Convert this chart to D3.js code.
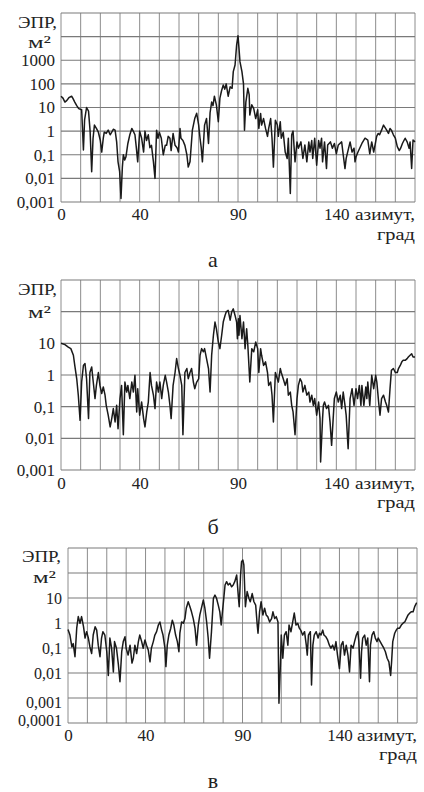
<!DOCTYPE html>
<html><head><meta charset="utf-8">
<script src="https://cdn.jsdelivr.net/npm/d3@7"></script>
<style>
body{margin:0;background:#fff}
svg{display:block}
</style>
</head><body><svg id="c" width="424" height="792"></svg>
<script>
// [azimuth (deg), RCS (m^2)]
const seriesA = [[0,30],[1,25],[2,17],[3,20],[4,26],[5.4,30],[6,25],[7,17],[8,12],[9,9],[10.5,8],[11.4,0.16],[12,3],[13,10],[14,7],[14.8,1],[15.6,0.019],[16.3,0.5],[17,1.8],[18,1.3],[19,0.9],[20,0.4],[20.7,0.13],[21.5,0.5],[22,0.9],[23,0.8],[24,1.1],[25,0.7],[25.8,0.9],[26.6,1.2],[27.5,1.1],[28.3,0.35],[29,0.05],[29.8,0.02],[30.5,0.0014],[31.2,0.03],[31.7,0.1],[32.4,0.06],[33,0.08],[34,0.3],[35,0.7],[36,1.3],[37,0.9],[37.6,0.7],[38.3,0.2],[39,0.05],[40,1],[41,0.5],[42,0.13],[42.7,1.0],[43.5,0.4],[44.4,0.7],[45.2,0.2],[46,0.25],[47,0.05],[47.8,0.01],[48.6,1.1],[49.3,0.5],[50,0.9],[51,0.5],[52,0.1],[53,0.25],[53.7,0.25],[54.5,0.6],[55.4,0.5],[56,0.15],[57,0.8],[58,0.25],[59,0.2],[59.7,0.13],[60.5,1.3],[61,0.5],[62,0.4],[63,0.25],[64,0.1],[64.7,0.03],[65.6,0.05],[66.8,1.1],[68,3.4],[69,5.7],[70,1.8],[70.7,0.5],[71.3,0.2],[71.9,0.05],[73,1.8],[74,3.4],[75,0.3],[75.8,6],[76.6,17],[77.3,12],[78,30],[79,13],[80,2.5],[80.8,25],[81.6,50],[82.5,89],[83.3,60],[84,100],[85,30],[86,75],[87,65],[87.6,330],[88.5,630],[89.3,4400],[90,11000],[90.5,3200],[91,870],[92,330],[92.8,100],[93.3,1.1],[94,17],[95,65],[95.7,34],[96,4.8],[97,13],[98,9],[99,3.4],[100,8],[100.6,1.3],[101.5,5.6],[102,1.8],[103,3.4],[104,1.3],[105,0.6],[105.6,1.3],[106.6,3.4],[107.3,0.5],[108,0.03],[109,2.9],[110,1.8],[110.5,0.6],[111.5,2.5],[112,0.5],[113,0.9],[114,0.13],[115,0.07],[115.6,0.5],[116.6,0.0023],[117.3,0.7],[118,1],[119,0.05],[120,0.35],[120.7,0.19],[122,0.35],[123,0.07],[124,0.26],[125,0.05],[126,0.35],[126.6,0.13],[127.5,0.4],[128,0.07],[129,0.5],[130,0.036],[131,0.4],[131.7,0.19],[132.5,0.5],[133,0.05],[134,0.35],[135,0.026],[135.6,0.26],[137,0.35],[138,0.19],[139,0.3],[140,0.11],[141,0.26],[142.7,0.35],[143.5,0.1],[144.4,0.026],[145,0.07],[147,0.35],[148,0.13],[149,0.19],[149.5,0.05],[150,0.08],[151,0.13],[153,0.3],[154.6,0.5],[156,0.42],[157,0.11],[158,0.35],[159,0.13],[159.7,0.26],[160.5,0.6],[161.3,0.8],[162,0.7],[163,1.1],[164,1.8],[165.6,1.1],[166.5,0.8],[167.3,1.3],[168,1.1],[169,0.7],[170,0.5],[171,0.22],[172,0.15],[172.7,0.19],[173.6,0.3],[174.5,0.42],[175,0.5],[176,0.35],[177,0.19],[177.5,0.35],[178.3,0.026],[179,0.42],[180,0.35]];

const seriesB = [[0,10],[2,9.1],[3.7,7.6],[5,6.8],[6.3,4.2],[7,2.0],[8,0.76],[8.8,0.23],[9.7,0.037],[10.5,0.6],[11.4,2.0],[12.2,2.3],[13,0.76],[14,0.042],[14.7,1.2],[15.6,1.8],[16.4,0.6],[17.3,0.18],[18,0.47],[19,1.2],[19.8,0.47],[20.7,0.26],[21.5,0.42],[22.4,0.23],[23,0.11],[24,0.054],[25,0.023],[25.8,0.042],[26.6,0.087],[27.5,0.033],[28.3,0.11],[29,0.02],[30,0.18],[30.8,0.47],[31.7,0.013],[32.5,0.6],[33.4,0.29],[34,0.47],[35,0.18],[36,0.6],[36.8,0.29],[37.6,0.98],[38.5,0.068],[39,0.37],[40,0.054],[41,0.14],[42,0.042],[42.7,0.023],[43.6,0.068],[44.4,0.14],[45.3,1.2],[46,0.47],[47,0.23],[47.8,0.087],[48.6,0.6],[49.5,0.29],[50.3,0.6],[51.2,0.18],[52,0.47],[53,0.98],[53.7,0.6],[54.6,0.29],[55.4,0.11],[56,0.042],[57,0.47],[58,1.2],[58.8,3.3],[59.7,1.6],[60.5,0.98],[61.4,0.47],[62,0.013],[63,1.2],[64,1.6],[64.7,0.76],[65.6,1.2],[66.4,1.6],[67.3,0.6],[68,0.37],[69,0.6],[70,0.76],[70.7,4.2],[71.5,6.8],[72.4,5.4],[73,6.8],[74,3.3],[75,1.6],[75.8,0.29],[76.6,4.2],[77.5,18],[78.3,47],[79,29],[80,11],[80.8,6.8],[81.7,18],[82.5,47],[83.4,76],[84,98],[85,110],[86,54],[86.8,98],[87.6,123],[88.5,76],[89.3,47],[89.7,14],[90.2,60],[90.5,18],[91,76],[92,14],[92.8,47],[93.6,6.8],[94.4,29],[95,8.7],[96,0.6],[97,6.8],[98,5.4],[99,11],[100,6.8],[100.6,1.2],[101.5,6.8],[102,4.2],[103,2.0],[104,2.6],[105,1.2],[105.6,0.47],[106.6,0.6],[107.3,0.23],[108,0.033],[109,1.2],[110,0.76],[110.5,0.6],[111.5,1.6],[112,1.2],[113,0.76],[114,0.47],[115,0.76],[115.6,0.23],[116.6,0.29],[117.3,0.11],[118,0.068],[119,0.013],[120,0.18],[120.7,0.47],[121.6,0.76],[122.4,0.6],[123,0.29],[124,0.47],[125,0.23],[126,0.29],[126.6,0.14],[127.5,0.23],[128.3,0.11],[129,0.18],[130,0.054],[131,0.14],[131.7,0.042],[132,0.0018],[133,0.042],[133.4,0.11],[134,0.14],[135,0.087],[136,0.11],[136.8,0.033],[137.6,0.006],[138.5,0.054],[139,0.18],[140,0.29],[141,0.14],[142,0.23],[142.7,0.087],[143.5,0.29],[144.4,0.11],[145,0.054],[146,0.0047],[147,0.18],[148,0.37],[149,0.11],[150,0.37],[150.8,0.18],[151.7,0.47],[152.5,0.11],[153,0.47],[154,0.11],[155,0.42],[155.5,0.18],[156,0.6],[157,0.11],[158,0.98],[159,0.37],[160,0.98],[160.6,0.6],[161.5,0.14],[162.2,0.054],[163,0.18],[164,0.23],[165,0.14],[165.6,0.11],[166.5,0.068],[167.3,0.37],[168,1.4],[169,1.6],[170,1.2],[171,1.2],[171.6,1.6],[172.5,2.0],[173.3,2.6],[174,2.9],[175,2.9],[176,3.3],[176.6,3.7],[177.5,4.2],[178.3,4.7],[179,3.7],[180,3.7]];

const seriesC = [[0,0.55],[1,0.33],[2,0.11],[2.7,0.15],[3.6,0.045],[4.5,0.62],[5.3,1.8],[6.2,0.98],[7,1.8],[8,0.71],[8.8,0.25],[9.6,0.45],[10.5,0.25],[11.3,0.11],[12.2,0.06],[13,0.33],[14,0.71],[14.8,0.52],[15.6,0.13],[16.5,0.045],[17.3,0.25],[18,0.45],[19,0.33],[20,0.071],[20.8,0.008],[21.6,0.25],[22.5,0.098],[23.4,0.011],[24,0.18],[25,0.098],[26,0.021],[26.8,0.0045],[27.7,0.071],[28.5,0.18],[29.4,0.28],[30,0.098],[31,0.052],[32,0.13],[33,0.025],[33.7,0.039],[34.5,0.13],[35.4,0.06],[36.3,0.18],[37,0.33],[38,0.18],[38.8,0.098],[39.7,0.21],[40.5,0.13],[41.4,0.083],[42.3,0.028],[43,0.098],[44,0.18],[44.8,0.33],[45.7,0.45],[46.6,0.83],[47.4,1.1],[48.3,0.52],[49,0.33],[50,0.098],[50.5,0.018],[51.2,0.13],[52,0.33],[53,0.62],[53.8,1.3],[54.6,0.83],[55.5,0.33],[56.4,0.18],[57.2,0.071],[57.7,0.39],[58.6,1.1],[59.5,0.98],[60.3,1.5],[61,3.9],[62,7.1],[62.9,4.5],[63.7,2.8],[64.6,1.5],[65.5,0.62],[66.3,0.13],[67.2,0.83],[68,2.1],[69,4.5],[69.8,8.3],[70.6,3.9],[71.5,1.1],[72.3,0.25],[73,0.039],[74,0.45],[75,9.8],[75.8,13],[76.6,9.8],[77.5,5.2],[78.3,2.8],[79,0.83],[80,5.2],[81,33],[81.8,45],[82.6,33],[83.5,39],[84.4,28],[85.2,33],[86,45],[87,83],[87.8,13],[88.3,4.5],[89,83],[89.5,280],[90.2,330],[90.7,210],[91.2,18],[91.5,4.5],[92.4,18],[93.3,9.8],[94,7.1],[95,15],[95.9,7.1],[96.8,5.2],[97.6,0.83],[98,0.39],[98.8,2.8],[99.6,7.1],[100.5,2.1],[101.4,3.9],[102.2,2.1],[103,1.8],[104,1.1],[105,1.5],[105.7,2.8],[106.6,1.5],[107.4,1.8],[108.3,1.1],[108.8,0.00062],[109.6,0.028],[110,0.33],[110.8,0.039],[111.6,0.33],[112.5,0.45],[113.4,0.13],[114,0.83],[115,0.45],[115.9,1.1],[116.7,2.5],[117.6,0.83],[118.5,0.98],[119.3,0.62],[120,0.52],[121,0.33],[122,0.45],[122.9,0.13],[123.4,0.052],[124,0.33],[125,0.45],[125.6,0.0033],[126.3,0.13],[127,0.33],[128,0.45],[129,0.25],[129.7,0.39],[130.5,0.33],[131.4,0.52],[132,0.33],[133,0.28],[133.9,0.21],[134.8,0.13],[135.6,0.098],[136.5,0.13],[137.4,0.083],[138.2,0.18],[139,0.052],[140,0.015],[140.9,0.13],[141.8,0.18],[142.6,0.052],[143.5,0.13],[144.4,0.052],[145.2,0.011],[146,0.13],[147,0.098],[147.8,0.18],[148.7,0.33],[149.5,0.45],[150,0.18],[150.4,0.039],[150.9,0.0062],[151.4,0.071],[152,0.25],[153,0.33],[153.8,0.13],[154.6,0.25],[155.5,0.0045],[156,0.13],[156.8,0.33],[157.7,0.45],[158.5,0.25],[159.4,0.18],[160,0.25],[161,0.18],[162,0.13],[162.9,0.098],[163.7,0.071],[164.6,0.039],[165.5,0.028],[166.4,0.008],[166.9,0.028],[167.5,0.18],[168.5,0.39],[169.3,0.52],[170,0.62],[171,0.62],[171.9,0.83],[172.8,0.98],[173.7,1.1],[174.5,1.5],[175.4,2.1],[176.3,2.5],[177,2.8],[178,2.8],[178.8,4.5],[179.7,6.2],[180,6.2]];

const xTickValues = [0, 40, 90, 140];
const yTicksA = [1000, 100, 10, 1, 0.1, 0.01, 0.001];
const yTicksB = [10, 1, 0.1, 0.01, 0.001];
const yTicksC = [10, 1, 0.1, 0.01, 0.001, 0.0001];
const panelLetters = ["а", "б", "в"];
const yTitle = ["ЭПР,", "м²"];
const xTitle = ["азимут,", "град"];

const panels = [
  {data: seriesA, yTicks: yTicksA, domain: [0.001, 1e5], left: 61, right: 415, top: 13, bottom: 202,
   t1: 28, t2: 48, t1x: 57, t2x: 51, xl: 220, grad: 240, letter: 267, tick: 17, shift: {}},
  {data: seriesB, yTicks: yTicksB, domain: [0.001, 1e3], left: 61, right: 415, top: 280, bottom: 470,
   t1: 295, t2: 318, t1x: 57, t2x: 51, xl: 489, grad: 508, letter: 534, tick: 17, shift: {}},
  {data: seriesC, yTicks: yTicksC, domain: [0.0001, 1e3], left: 68, right: 417, top: 548, bottom: 723,
   t1: 562, t2: 583, t1x: 61, t2x: 56, xl: 741, grad: 760, letter: 788, tick: 16, shift: {"0.001": 4, "0.0001": -3}}
];

const FONT = '"Liberation Serif"';
const INK = "#222";
const fmt = v => v >= 1 ? String(v) : String(v).replace(".", ",");
const svg = d3.select("#c");

function setFont(sel, size) {
  sel.attr("font-family", "Liberation Serif").attr("font-size", size)
    .style("font-family", FONT).style("font-size", size + "px").style("fill", INK);
}
function label(g, x, y, anchor, size, txt, len) {
  const t = g.append("text").attr("x", x).attr("y", y).attr("text-anchor", anchor).text(txt);
  setFont(t, size);
  if (len) t.attr("textLength", len).attr("lengthAdjust", "spacingAndGlyphs");
  return t;
}

panels.forEach((p, i) => {
  const x = d3.scaleLinear().domain([0, 180]).range([p.left, p.right]);
  const y = d3.scaleLog().domain(p.domain).range([p.bottom, p.top]);
  const g = svg.append("g");

  const lo = Math.round(Math.log10(p.domain[0])), hi = Math.round(Math.log10(p.domain[1]));
  const decades = d3.range(lo, hi + 1).map(e => Math.pow(10, e));

  g.selectAll(".vg").data(d3.range(0, 181, 10)).join("line")
    .attr("x1", d => x(d)).attr("x2", d => x(d))
    .attr("y1", p.top).attr("y2", p.bottom)
    .attr("stroke", "#8c8c8c").attr("stroke-width", 1);
  g.selectAll(".hg").data(decades).join("line")
    .attr("x1", p.left).attr("x2", p.right)
    .attr("y1", d => y(d)).attr("y2", d => y(d))
    .attr("stroke", "#7a7a7a").attr("stroke-width", 1.2);

  const line = d3.line().x(d => x(d[0])).y(d => y(d[1]));
  g.append("path").datum(p.data).attr("d", line)
    .attr("fill", "none").attr("stroke", "#1a1a1a").attr("stroke-width", 1.5)
    .attr("stroke-linejoin", "round");

  const ya = g.append("g").attr("transform", `translate(${p.left - 6},0)`)
    .call(d3.axisLeft(y).tickValues(p.yTicks).tickFormat(fmt).tickSize(0).tickPadding(0));
  ya.attr("font-family", null).attr("font-size", null);
  ya.select(".domain").remove();
  setFont(ya.selectAll("text"), p.tick);
  ya.selectAll("text").attr("dy", d => (0.32 + (p.shift[String(d)] || 0) / p.tick) + "em");

  const xa = g.append("g").attr("transform", `translate(0,${p.xl})`)
    .call(d3.axisBottom(x).tickValues(xTickValues).tickFormat(d3.format("d")).tickSize(0).tickPadding(0));
  xa.attr("font-family", null).attr("font-size", null);
  xa.select(".domain").remove();
  setFont(xa.selectAll("text"), 17);
  xa.selectAll("text").attr("dy", 0);

  label(g, p.t1x, p.t1, "end", 17, yTitle[0], 39);
  label(g, p.t2x, p.t2, "end", 17, yTitle[1], 23);
  label(g, p.right, p.xl, "end", 17, xTitle[0], 60);
  label(g, p.right, p.grad, "end", 17, xTitle[1], 38);
  label(g, 213, p.letter, "middle", 22, panelLetters[i]);
});
</script>
</body></html>
